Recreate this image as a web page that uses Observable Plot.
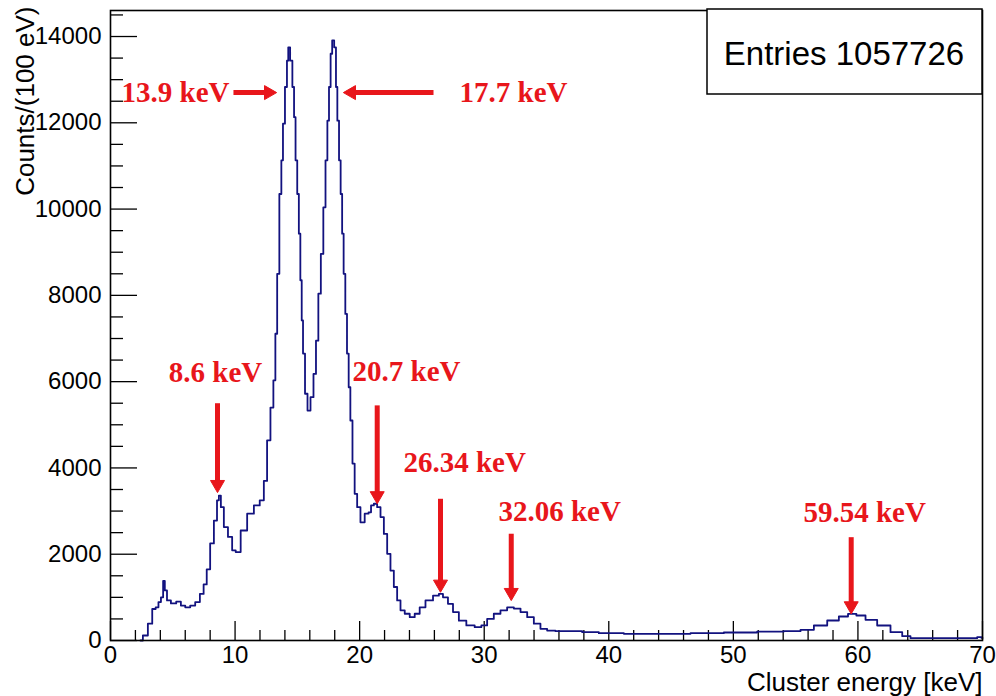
<!DOCTYPE html>
<html><head><meta charset="utf-8">
<script src="https://cdn.jsdelivr.net/npm/d3@7"></script>
<script src="https://cdn.jsdelivr.net/npm/@observablehq/plot@0.6"></script>
<style>
body{margin:0;background:#fff;}
#chart{position:relative;width:996px;height:696px;}
</style>
</head><body><div id="chart"></div>
<script>
// Histogram readings: cluster energy (keV) and counts per 100 eV
const energy = [2.4, 2.8, 3.2, 3.5, 3.75, 3.95, 4.15, 4.3, 4.42, 4.65,
  5.05, 5.5, 5.8, 6.2, 6.6, 7.0, 7.35, 7.6, 7.85, 8.15,
  8.45, 8.65, 8.75, 8.97, 9.23, 9.63, 9.9, 10.2, 10.7, 11.24,
  11.78, 12.18, 12.44, 12.7, 12.98, 13.17, 13.3, 13.46, 13.65, 13.78,
  13.91, 14.1, 14.23, 14.31, 14.53, 14.67, 14.8, 14.91, 15.07, 15.17,
  15.31, 15.39, 15.52, 15.71, 15.92, 16.19, 16.4, 16.59, 16.78, 16.99,
  17.18, 17.34, 17.48, 17.6, 17.74, 17.85, 18.06, 18.14, 18.28, 18.41,
  18.54, 18.65, 18.78, 18.92, 19.05, 19.19, 19.32, 19.53, 19.67, 19.93,
  20.2, 20.61, 20.82, 21.01, 21.27, 21.54, 21.81, 22.08, 22.34, 22.61,
  22.88, 23.14, 23.42, 23.82, 24.22, 24.62, 25.02, 25.55, 26.23, 26.49,
  26.89, 27.29, 27.7, 28.23, 28.9, 29.57, 29.97, 30.5, 31.04, 31.57,
  32.11, 32.65, 33.18, 33.72, 34.25, 34.78, 35.32, 36.12, 37.2, 38.53,
  39.87, 42.55, 45.22, 47.9, 50.57, 53.25, 54.85, 55.93, 57.0, 58.07,
  58.87, 59.54, 60.21, 61.01, 62.08, 63.15, 63.96, 64.48, 66.63, 69.3,
  69.84, 70];
const counts = [0, 116, 390, 730, 770, 890, 1000, 1380, 1160, 930,
  860, 900, 810, 770, 810, 890, 1080, 1300, 1650, 2250,
  2780, 3250, 3360, 3090, 2630, 2400, 2090, 2050, 2550, 2940,
  3130, 3250, 3700, 4640, 5400, 6030, 7110, 8500, 10350, 11130,
  11980, 12830, 13440, 13750, 13440, 12830, 12130, 11130, 10350, 9430,
  8350, 7420, 6650, 5720, 5330, 5640, 6180, 6950, 8040, 8960,
  10040, 11130, 12050, 12830, 13600, 13910, 13750, 12830, 12050, 11130,
  10350, 9430, 8500, 7570, 6650, 5870, 5100, 4100, 3400, 3090,
  2740, 2940, 2970, 3130, 3170, 3090, 2860, 2470, 2010, 1620,
  1240, 930, 700, 620, 540, 620, 770, 930, 1040, 1080,
  1000, 850, 660, 460, 350, 310, 350, 500, 620, 700,
  770, 740, 660, 540, 390, 270, 230, 216, 216, 193,
  170, 155, 155, 170, 185, 208, 216, 247, 348, 464,
  556, 618, 580, 479, 348, 193, 100, 54, 54, 54,
  77, 60];

// Axis ticks
const xMajorTicks = [0, 10, 20, 30, 40, 50, 60, 70];
const xMinorTicks = [2, 4, 6, 8, 12, 14, 16, 18, 22, 24, 26, 28, 32, 34, 36, 38, 42, 44, 46, 48, 52, 54, 56, 58, 62, 64, 66, 68];
const yMajorTicks = [0, 2000, 4000, 6000, 8000, 10000, 12000, 14000];
const yMinorTicks = [500, 1000, 1500, 2500, 3000, 3500, 4500, 5000, 5500, 6500, 7000, 7500, 8500, 9000, 9500, 10500, 11000, 11500, 12500, 13000, 13500, 14500];

// Peak annotations (label position and arrow, in data units)
const peakLabels = ["13.9 keV", "17.7 keV", "8.6 keV", "20.7 keV", "26.34 keV", "32.06 keV", "59.54 keV"];
const labelEnergy = [5.22, 32.35, 8.43, 23.76, 28.43, 36.06, 60.54];
const labelCount = [12690, 12690, 6210, 6220, 4130, 2975, 2955];
const arrowFromE = [9.87, 25.93, 8.59, 21.41, 26.49, 32.17, 59.46];
const arrowFromC = [12700, 12700, 5500, 5450, 3285, 2475, 2395];
const arrowToE = [13.33, 18.70, 8.59, 21.41, 26.49, 32.17, 59.46];
const arrowToC = [12700, 12700, 3430, 3170, 1120, 927, 618];

const entriesText = "Entries 1057726";

const W = 996, H = 696;
const mL = 110, mR = 14, mT = 10, mB = 56;
const innerW = W - mL - mR, innerH = H - mT - mB;
const RED = "#e8161b";
const NAVY = "#12127f";
const sans = "'Liberation Sans', Arial, Helvetica, sans-serif";
const serif = "'Liberation Serif', 'Times New Roman', Times, serif";

const idx = peakLabels.map((_, i) => i);
const dirOf = i => arrowFromC[i] === arrowToC[i] ? (arrowToE[i] > arrowFromE[i] ? "right" : "left") : "down";

function statsBox() {
  const right = W - mR;
  const g = d3.create("svg:g");
  g.append("rect").attr("x", right - 275).attr("y", mT - 1).attr("width", 275).attr("height", 85)
    .attr("fill", "white").attr("stroke", "black").attr("stroke-width", 1.5);
  g.append("text").attr("x", right - 138).attr("y", mT + 43).attr("text-anchor", "middle")
    .attr("dominant-baseline", "central").attr("font-size", 33).attr("font-family", sans)
    .attr("fill", "black").text(entriesText);
  return g.node();
}

const plot = Plot.plot({
  width: W, height: H,
  marginLeft: mL, marginRight: mR, marginTop: mT, marginBottom: mB,
  style: {fontFamily: sans, background: "white", color: "black"},
  x: {domain: [0, 70], axis: null},
  y: {domain: [0, 14603], axis: null},
  marks: [
    Plot.axisX({ticks: xMajorTicks, tickSize: 0, tickPadding: 5, fontSize: 24, label: null, tickFormat: d => String(d)}),
    Plot.axisY({ticks: yMajorTicks, tickSize: 0, tickPadding: 9, fontSize: 24, label: null, tickFormat: d => String(d)}),
    Plot.ruleX(xMajorTicks, {x: d => d, insetTop: innerH - 19, stroke: "black", strokeWidth: 1.3}),
    Plot.ruleX(xMinorTicks, {x: d => d, insetTop: innerH - 10, stroke: "black", strokeWidth: 1.3}),
    Plot.ruleY(yMajorTicks, {y: d => d, insetRight: innerW - 27, stroke: "black", strokeWidth: 1.3}),
    Plot.ruleY(yMinorTicks, {y: d => d, insetRight: innerW - 13, stroke: "black", strokeWidth: 1.3}),
    Plot.line(counts, {x: energy, y: counts, curve: "step", stroke: NAVY, strokeWidth: 1.8}),
    Plot.frame({stroke: "black", strokeWidth: 1.6}),
    Plot.text(["Counts/(100 eV)"], {frameAnchor: "top-left", rotate: -90, textAnchor: "end", dx: -95, dy: -4, fontSize: 26, fill: "black"}),
    Plot.text(["Cluster energy [keV]"], {frameAnchor: "bottom-right", textAnchor: "end", lineAnchor: "bottom", dy: 50, fontSize: 26, fill: "black"}),
    // arrows: shafts
    Plot.arrow(idx, {x1: i => arrowFromE[i], y1: i => arrowFromC[i], x2: i => arrowToE[i], y2: i => arrowToC[i],
      headLength: 0, insetEnd: 6, stroke: RED, strokeWidth: 5, strokeLinecap: "butt"}),
    // arrow heads
    Plot.dot(idx.filter(i => dirOf(i) === "down"), {x: i => arrowToE[i], y: i => arrowToC[i], symbol: "triangle", r: 5.2, rotate: 180, dy: -8, fill: RED, stroke: RED, strokeWidth: 1}),
    Plot.dot(idx.filter(i => dirOf(i) === "right"), {x: i => arrowToE[i], y: i => arrowToC[i], symbol: "triangle", r: 5.2, rotate: 90, dx: -8, fill: RED, stroke: RED, strokeWidth: 1}),
    Plot.dot(idx.filter(i => dirOf(i) === "left"), {x: i => arrowToE[i], y: i => arrowToC[i], symbol: "triangle", r: 5.2, rotate: -90, dx: 8, fill: RED, stroke: RED, strokeWidth: 1}),
    Plot.text(idx, {x: i => labelEnergy[i], y: i => labelCount[i], text: i => peakLabels[i], fontFamily: serif, fontWeight: "bold", fontSize: 29, fill: RED}),
    statsBox
  ]
});
document.getElementById("chart").appendChild(plot);
</script>
</body></html>
